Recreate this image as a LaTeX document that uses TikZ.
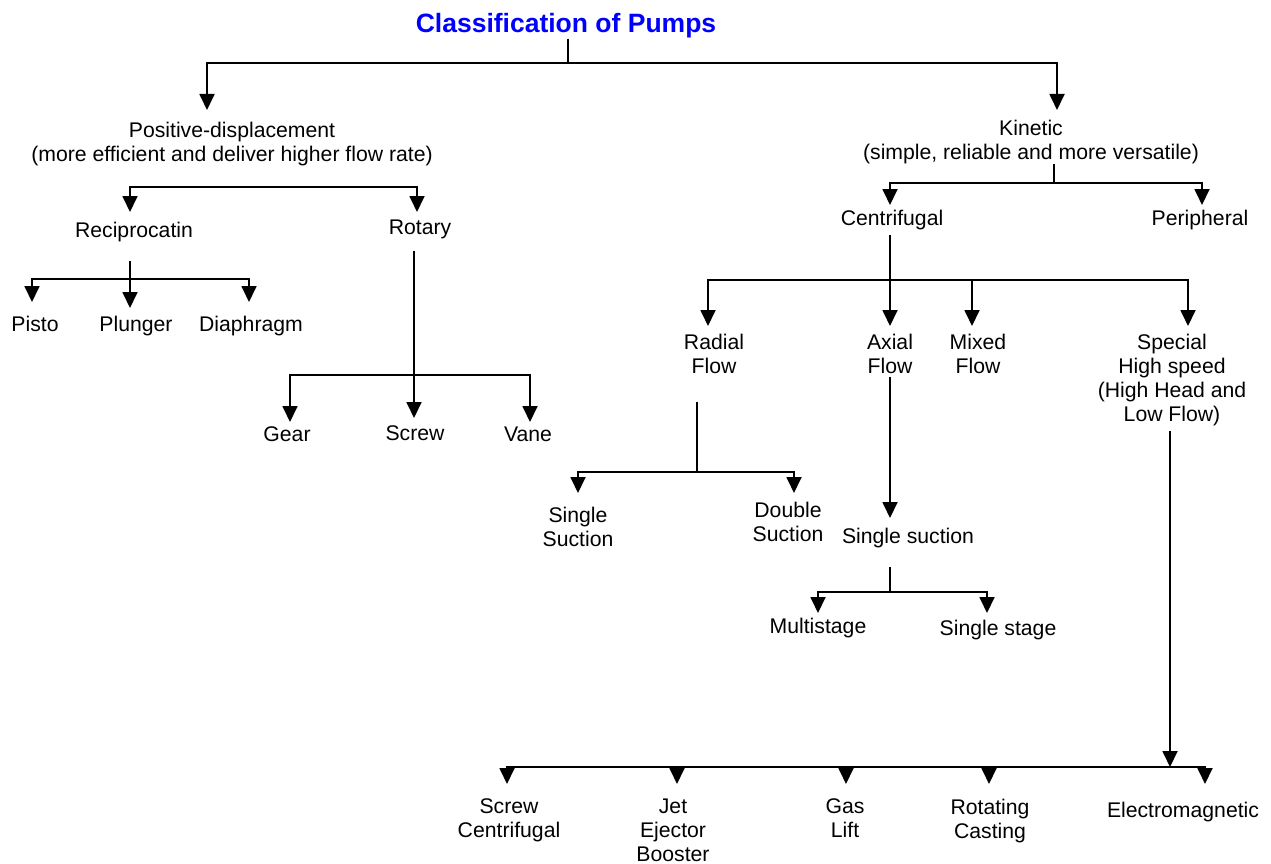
\documentclass[tikz,border=0pt]{standalone}
\usepackage{fontspec}
\setmainfont{Liberation Sans}
\usetikzlibrary{arrows.meta}
\definecolor{ttl}{RGB}{0,0,255}
\newcommand{\bodyfont}{\fontsize{21.2}{24.3}\selectfont}
\newcommand{\titlefont}{\fontsize{26.5}{30}\selectfont\bfseries}
\begin{document}
\begin{tikzpicture}[x=1pt,y=-1pt,
  lab/.style={inner sep=0pt, outer sep=0pt, align=center, font=\bodyfont, anchor=north},
  ln/.style={line width=1.8pt},
  arr/.style={ln, -{Triangle[length=16pt,width=15pt]}}]
\useasboundingbox (0,0) rectangle (1271,864);
% title
\node[font=\titlefont, text=ttl, inner sep=0pt, anchor=base] (title) at (566,33) {Classification of Pumps};
% nodes
\node[lab] (pd) at (232,121.7) {Positive-displacement\\(more efficient and deliver higher flow rate)};
\node[lab] (kin) at (1031,119.7) {Kinetic\\(simple, reliable and more versatile)};
\node[lab] (recip) at (134,221.7) {Reciprocatin};
\node[lab] (rot) at (420,219.7) {Rotary};
\node[lab] (pisto) at (35,315.7) {Pisto};
\node[lab] (plunger) at (136,315.7) {Plunger};
\node[lab] (diaph) at (251,315.7) {Diaphragm};
\node[lab] (gear) at (287,426.7) {Gear};
\node[lab] (screw) at (415,425.7) {Screw};
\node[lab] (vane) at (528,426.7) {Vane};
\node[lab] (cen) at (892,209.7) {Centrifugal};
\node[lab] (per) at (1200,209.7) {Peripheral};
\node[lab] (rad) at (714,333.7) {Radial\\Flow};
\node[lab] (ax) at (890,333.7) {Axial\\Flow};
\node[lab] (mix) at (978,333.7) {Mixed\\Flow};
\node[lab] (spec) at (1172,333.7) {Special\\High speed\\(High Head and\\Low Flow)};
\node[lab] (sucA) at (578,506.7) {Single\\Suction};
\node[lab] (sucB) at (788,501.7) {Double\\Suction};
\node[lab] (sucC) at (908,527.7) {Single suction};
\node[lab] (multi) at (818,617.7) {Multistage};
\node[lab] (sstage) at (998,619.7) {Single stage};
\node[lab] (scr) at (509,798.7) {Screw\\Centrifugal};
\node[lab] (jet) at (673,798.7) {Jet\\Ejector\\Booster};
\node[lab] (gas) at (845,798.7) {Gas\\Lift};
\node[lab] (rotc) at (990,798.7) {Rotating\\Casting};
\node[lab] (em) at (1183,801.7) {Electromagnetic};
% junctions
\coordinate (jtop) at (568,63);
\coordinate (jpd) at (274,187);
\coordinate (jkin) at (1054,183);
\coordinate (jrec) at (130,279);
\coordinate (jrot) at (414,375);
\coordinate (jcen) at (890,280);
\coordinate (jrad) at (697,472);
\coordinate (jsuc) at (890,592);
\coordinate (jbot) at (1170,767);
% top
\draw[ln] (jtop |- title.south) -- (jtop);
\draw[arr] (jtop) -| ([xshift=-25pt,yshift=11.7pt]pd.north);
\draw[arr] (jtop) -| ([xshift=26pt,yshift=9.7pt]kin.north);
% positive displacement
\draw[arr] (jpd) -| ([xshift=-4pt,yshift=9.7pt]recip.north);
\draw[arr] (jpd) -| ([xshift=-3pt,yshift=7.7pt]rot.north);
% kinetic
\draw[ln] (jkin |- kin.south) -- (jkin);
\draw[arr] (jkin) -| ([xshift=-2pt,yshift=4.7pt]cen.north);
\draw[arr] (jkin) -| ([xshift=2pt,yshift=4.7pt]per.north);
% reciprocating
\draw[ln] (jrec |- recip.south) ++(0,20) -- (jrec);
\draw[arr] (jrec) -| ([xshift=-3pt,yshift=13.7pt]pisto.north);
\draw[arr] (jrec) -- ([xshift=-6pt,yshift=7.7pt]plunger.north);
\draw[arr] (jrec) -| ([xshift=-2pt,yshift=13.7pt]diaph.north);
% rotary
\draw[arr] (jrot |- rot.south) ++(0,12) -- ([xshift=-1pt,yshift=7.7pt]screw.north);
\draw[arr] (jrot) -| ([xshift=3pt,yshift=4.7pt]gear.north);
\draw[arr] (jrot) -| ([xshift=2pt,yshift=4.7pt]vane.north);
% centrifugal
\draw[ln] (jcen |- cen.south) ++(0,6) -- (jcen);
\draw[arr] (jcen) -| ([xshift=-6pt,yshift=7.7pt]rad.north);
\draw[arr] (jcen) -- ([yshift=7.7pt]ax.north);
\draw[arr] (jcen) -| ([xshift=-6pt,yshift=7.7pt]mix.north);
\draw[arr] (jcen) -| ([xshift=16pt,yshift=7.7pt]spec.north);
% radial
\draw[ln] (jrad |- rad.south) ++(0,28) -- (jrad);
\draw[arr] (jrad) -| ([yshift=13.7pt]sucA.north);
\draw[arr] (jrad) -| ([xshift=6pt,yshift=8.7pt]sucB.north);
% axial
\draw[arr] (ax.south) ++(0,3) -- ([xshift=-18pt,yshift=9.7pt]sucC.north);
% single suction
\draw[ln] (jsuc |- sucC.south) ++(0,20) -- (jsuc);
\draw[arr] (jsuc) -| ([yshift=4.7pt]multi.north);
\draw[arr] (jsuc) -| ([xshift=-11pt,yshift=6.7pt]sstage.north);
% special
\draw[arr] (jbot |- spec.south) ++(0,5) -- (jbot);
\draw[arr] (jbot) -| ([xshift=-2pt,yshift=14.7pt]scr.north);
\draw[arr] (jbot) -| ([xshift=4pt,yshift=14.7pt]jet.north);
\draw[arr] (jbot) -| ([xshift=1pt,yshift=14.7pt]gas.north);
\draw[arr] (jbot) -| ([xshift=-1pt,yshift=14.7pt]rotc.north);
\draw[arr] (jbot) -| ([xshift=22pt,yshift=17.7pt]em.north);
\end{tikzpicture}
\end{document}
